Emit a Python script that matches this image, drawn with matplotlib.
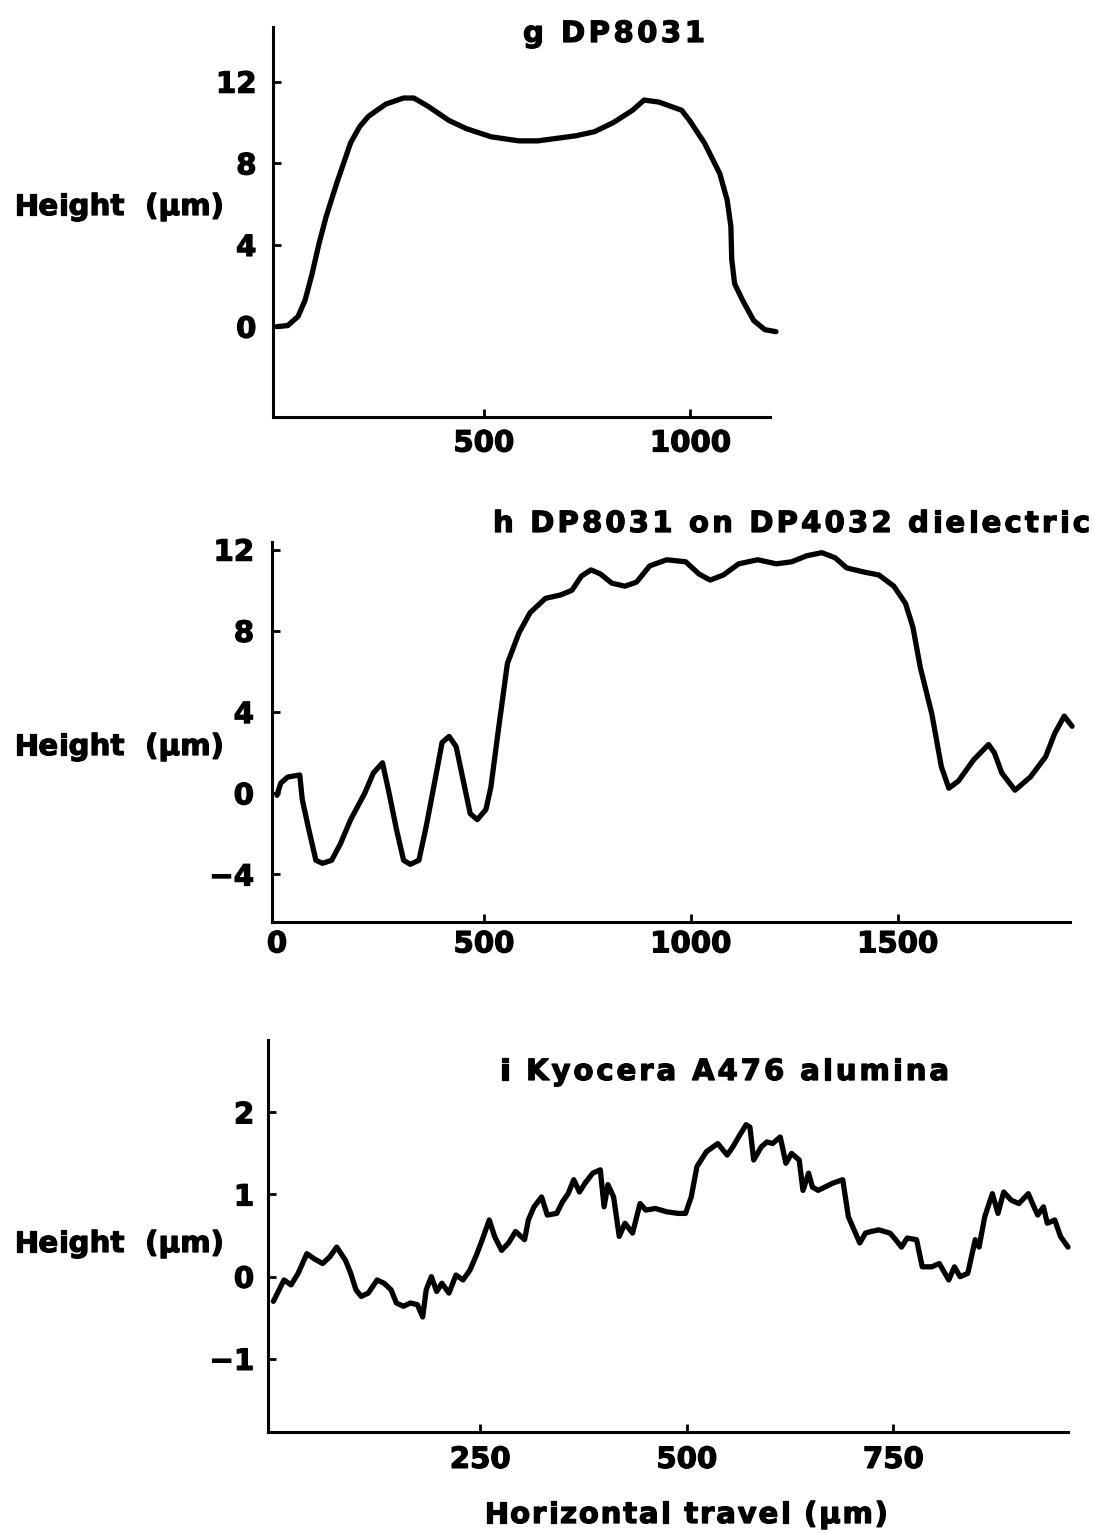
import matplotlib
matplotlib.use("Agg")
import matplotlib.pyplot as plt
import matplotlib.patheffects as pe
from matplotlib.font_manager import FontProperties

plt.rcParams['font.family'] = ['DejaVu Sans']
plt.rcParams['font.weight'] = 'bold'

# ---- data ----
g_x = [0, 26, 51, 68, 85, 102, 119, 144, 178, 200, 221, 263, 306, 331, 365, 416, 458, 518,
       585, 631, 723, 768, 814, 860, 888, 924, 979, 998, 1034, 1071, 1089, 1098, 1100,
       1107, 1126, 1153, 1180, 1207]
g_y = [0.0, 0.05, 0.5, 1.3, 2.6, 4.1, 5.4, 7.0, 9.0, 9.8, 10.3, 10.9, 11.2, 11.2, 10.8, 10.1,
       9.7, 9.3, 9.1, 9.1, 9.35, 9.55, 10.0, 10.6, 11.1, 11.0, 10.6, 10.1, 9.0, 7.5, 6.2,
       4.9, 3.3, 2.1, 1.3, 0.3, -0.15, -0.25]

h_x = [0, 9, 26, 55, 61, 77, 94, 110, 132, 153, 178, 212, 233, 255, 271, 289, 306, 322,
       343, 361, 382, 399, 416, 433, 450, 467, 484, 505, 517, 534, 557, 585, 612, 649,
       686, 713, 736, 759, 782, 809, 841, 869, 901, 942, 988, 1020, 1047, 1079, 1116,
       1162, 1207, 1244, 1281, 1317, 1349, 1377, 1418, 1455, 1491, 1519, 1537, 1555,
       1583, 1606, 1624, 1647, 1684, 1720, 1734, 1752, 1784, 1821, 1858, 1880, 1903, 1922]
h_y = [-0.1, 0.5, 0.8, 0.9, -0.3, -1.8, -3.3, -3.45, -3.3, -2.5, -1.3, 0.0, 1.0, 1.5,
       0.0, -1.8, -3.3, -3.5, -3.3, -1.6, 0.65, 2.5, 2.8, 2.3, 0.65, -1.0, -1.3, -0.8,
       0.3, 2.95, 6.4, 7.9, 8.9, 9.6, 9.77, 10.0, 10.7, 11.0, 10.8, 10.35, 10.2, 10.4,
       11.2, 11.5, 11.4, 10.8, 10.5, 10.75, 11.3, 11.5, 11.3, 11.4, 11.7, 11.85, 11.6,
       11.1, 10.9, 10.75, 10.2, 9.36, 8.2, 6.2, 3.9, 1.3, 0.25, 0.6, 1.65, 2.4, 2.0, 1.0,
       0.15, 0.8, 1.8, 2.95, 3.8, 3.3]

i_x = [0, 12.9, 21.4, 29.9, 40.5, 49.0, 59.6, 68.1, 76.6, 87.2, 93.6, 99.9, 106.3, 114.8,
       125.5, 133.9, 142.4, 148.8, 157.3, 165.7, 174.2, 180.6, 184.9, 191.1, 197.6, 203.8,
       212.4, 220.9, 229.4, 237.8, 246.3, 252.7, 261.2, 267.6, 276.1, 284.5, 293.0, 303.9,
       308.5, 315.3, 324.5, 331.4, 342.8, 349.7, 356.6, 363.4, 370.3, 377.2, 386.4, 395.5,
       400.1, 404.7, 411.6, 418.4, 425.3, 434.5, 443.6, 450.5, 462.0, 475.7, 489.4, 498.6,
       505.5, 512.4, 523.8, 537.6, 549.0, 555.9, 562.8, 571.9, 576.5, 581.1, 590.3, 597.1,
       604.0, 613.2, 620.0, 626.9, 636.1, 640.7, 647.5, 652.1, 659.0, 677.3, 688.8, 695.6,
       702.5, 709.4, 716.3, 723.1, 732.3, 746.0, 752.9, 759.8, 766.7, 778.1, 785.0, 796.4,
       805.6, 810.2, 817.1, 823.9, 830.8, 840.0, 849.1, 853.7, 860.6, 869.8, 876.6, 883.5,
       892.7, 901.8, 913.3, 920.1, 924.7, 931.6, 936.2, 945.3, 952.2, 961.3]
i_y = [-0.30, -0.04, -0.10, 0.04, 0.28, 0.22, 0.16, 0.24, 0.36, 0.20, 0.04, -0.16, -0.24,
       -0.20, -0.04, -0.08, -0.16, -0.32, -0.36, -0.32, -0.34, -0.49, -0.16, 0.0, -0.18,
       -0.08, -0.20, 0.02, -0.04, 0.08, 0.28, 0.45, 0.69, 0.49, 0.32, 0.41, 0.55, 0.45,
       0.69, 0.85, 0.97, 0.75, 0.77, 0.91, 1.01, 1.18, 1.03, 1.14, 1.26, 1.30, 0.85, 1.12,
       0.97, 0.49, 0.65, 0.53, 0.89, 0.81, 0.83, 0.79, 0.77, 0.77, 0.97, 1.34, 1.52, 1.62,
       1.48, 1.58, 1.70, 1.85, 1.82, 1.42, 1.58, 1.64, 1.62, 1.70, 1.38, 1.50, 1.42, 1.05,
       1.26, 1.09, 1.05, 1.14, 1.18, 0.73, 0.57, 0.41, 0.53, 0.55, 0.57, 0.53, 0.45, 0.36,
       0.47, 0.45, 0.12, 0.12, 0.16, 0.08, -0.04, 0.12, 0.0, 0.04, 0.45, 0.36, 0.73, 1.01,
       0.77, 1.03, 0.93, 0.89, 1.01, 0.85, 0.75, 0.85, 0.65, 0.69, 0.49, 0.36]

g_xticks = [500, 1000]
g_yticks = [0, 4, 8, 12]
h_xticks = [0, 500, 1000, 1500]
h_yticks = [-4, 0, 4, 8, 12]
i_xticks = [250, 500, 750]
i_yticks = [-1, 0, 1, 2]

titles = ["g DP8031", "h DP8031 on DP4032 dielectric", "i Kyocera A476 alumina"]
ylabel = "Height  (μm)"
xlabel = "Horizontal travel (μm)"

W, H = 1094, 1534
fig = plt.figure(figsize=(W / 100, H / 100), dpi=100)
FS = 21
PROP = FontProperties(family='DejaVu Sans', weight='bold', size=FS)
THICK = [pe.withStroke(linewidth=0.9, foreground='black')]


def add_axes(l, r, t, b):
    return fig.add_axes([l / W, 1 - b / H, (r - l) / W, (b - t) / H])


def style(ax, xt, yt, xlim, ylim, xpad, ypad):
    ax.set_xlim(*xlim)
    ax.set_ylim(*ylim)
    ax.set_xticks(xt)
    ax.set_yticks(yt)
    for s in ['top', 'right']:
        ax.spines[s].set_visible(False)
    for s in ['left', 'bottom']:
        ax.spines[s].set_linewidth(2.2)
    ax.tick_params(axis='both', direction='in', length=6, width=2, labelsize=FS)
    ax.tick_params(axis='x', pad=xpad)
    ax.tick_params(axis='y', pad=ypad)
    for lab in ax.get_xticklabels() + ax.get_yticklabels():
        lab.set_fontweight('bold')
        lab.set_path_effects(THICK)
    ax.patch.set_alpha(0)


def tracked(x_left, baseline, s, target_w):
    """Letter-spaced text between x_left and x_left+target_w (pixels)."""
    r = fig.canvas.get_renderer()
    ws = [r.get_text_width_height_descent(c, PROP, ismath=False)[0] for c in s]
    extra = (target_w - sum(ws)) / max(len(s) - 1, 1)
    x = x_left
    for c, w in zip(s, ws):
        fig.text(x / W, 1 - baseline / H, c, fontproperties=PROP, ha='left', va='baseline',
                 path_effects=THICK)
        x += w + extra


lw = 3.8
ax_g = add_axes(273, 770, 27, 417)
ax_g.plot(g_x, g_y, color='black', lw=lw, solid_joinstyle='round', solid_capstyle='round', clip_on=False)
style(ax_g, g_xticks, g_yticks, (-9.7, 1192.6), (-4.43, 14.68), 9, 12)

ax_h = add_axes(272, 1070, 541.7, 922)
ax_h.plot(h_x, h_y, color='black', lw=lw, solid_joinstyle='round', solid_capstyle='round', clip_on=False)
style(ax_h, h_xticks, h_yticks, (-12.1, 1916.9), (-6.34, 12.39), 6, 13)
ax_h.xaxis.get_major_ticks()[0].tick1line.set_visible(False)

ax_i = add_axes(268, 1068, 1040, 1432)
ax_i.plot(i_x, i_y, color='black', lw=lw, solid_joinstyle='round', solid_capstyle='round', clip_on=False)
style(ax_i, i_xticks, i_yticks, (-6.5, 961.3), (-1.89, 2.88), 10, 10)

tracked(523, 42, titles[0], 182)
tracked(493, 532, titles[1], 597)
tracked(500, 1080, titles[2], 449)

for bl in [215, 755, 1252]:
    tracked(14, bl, ylabel, 210)

tracked(484, 1523, xlabel, 404)

fig.savefig("out.png", dpi=100, facecolor='white')
